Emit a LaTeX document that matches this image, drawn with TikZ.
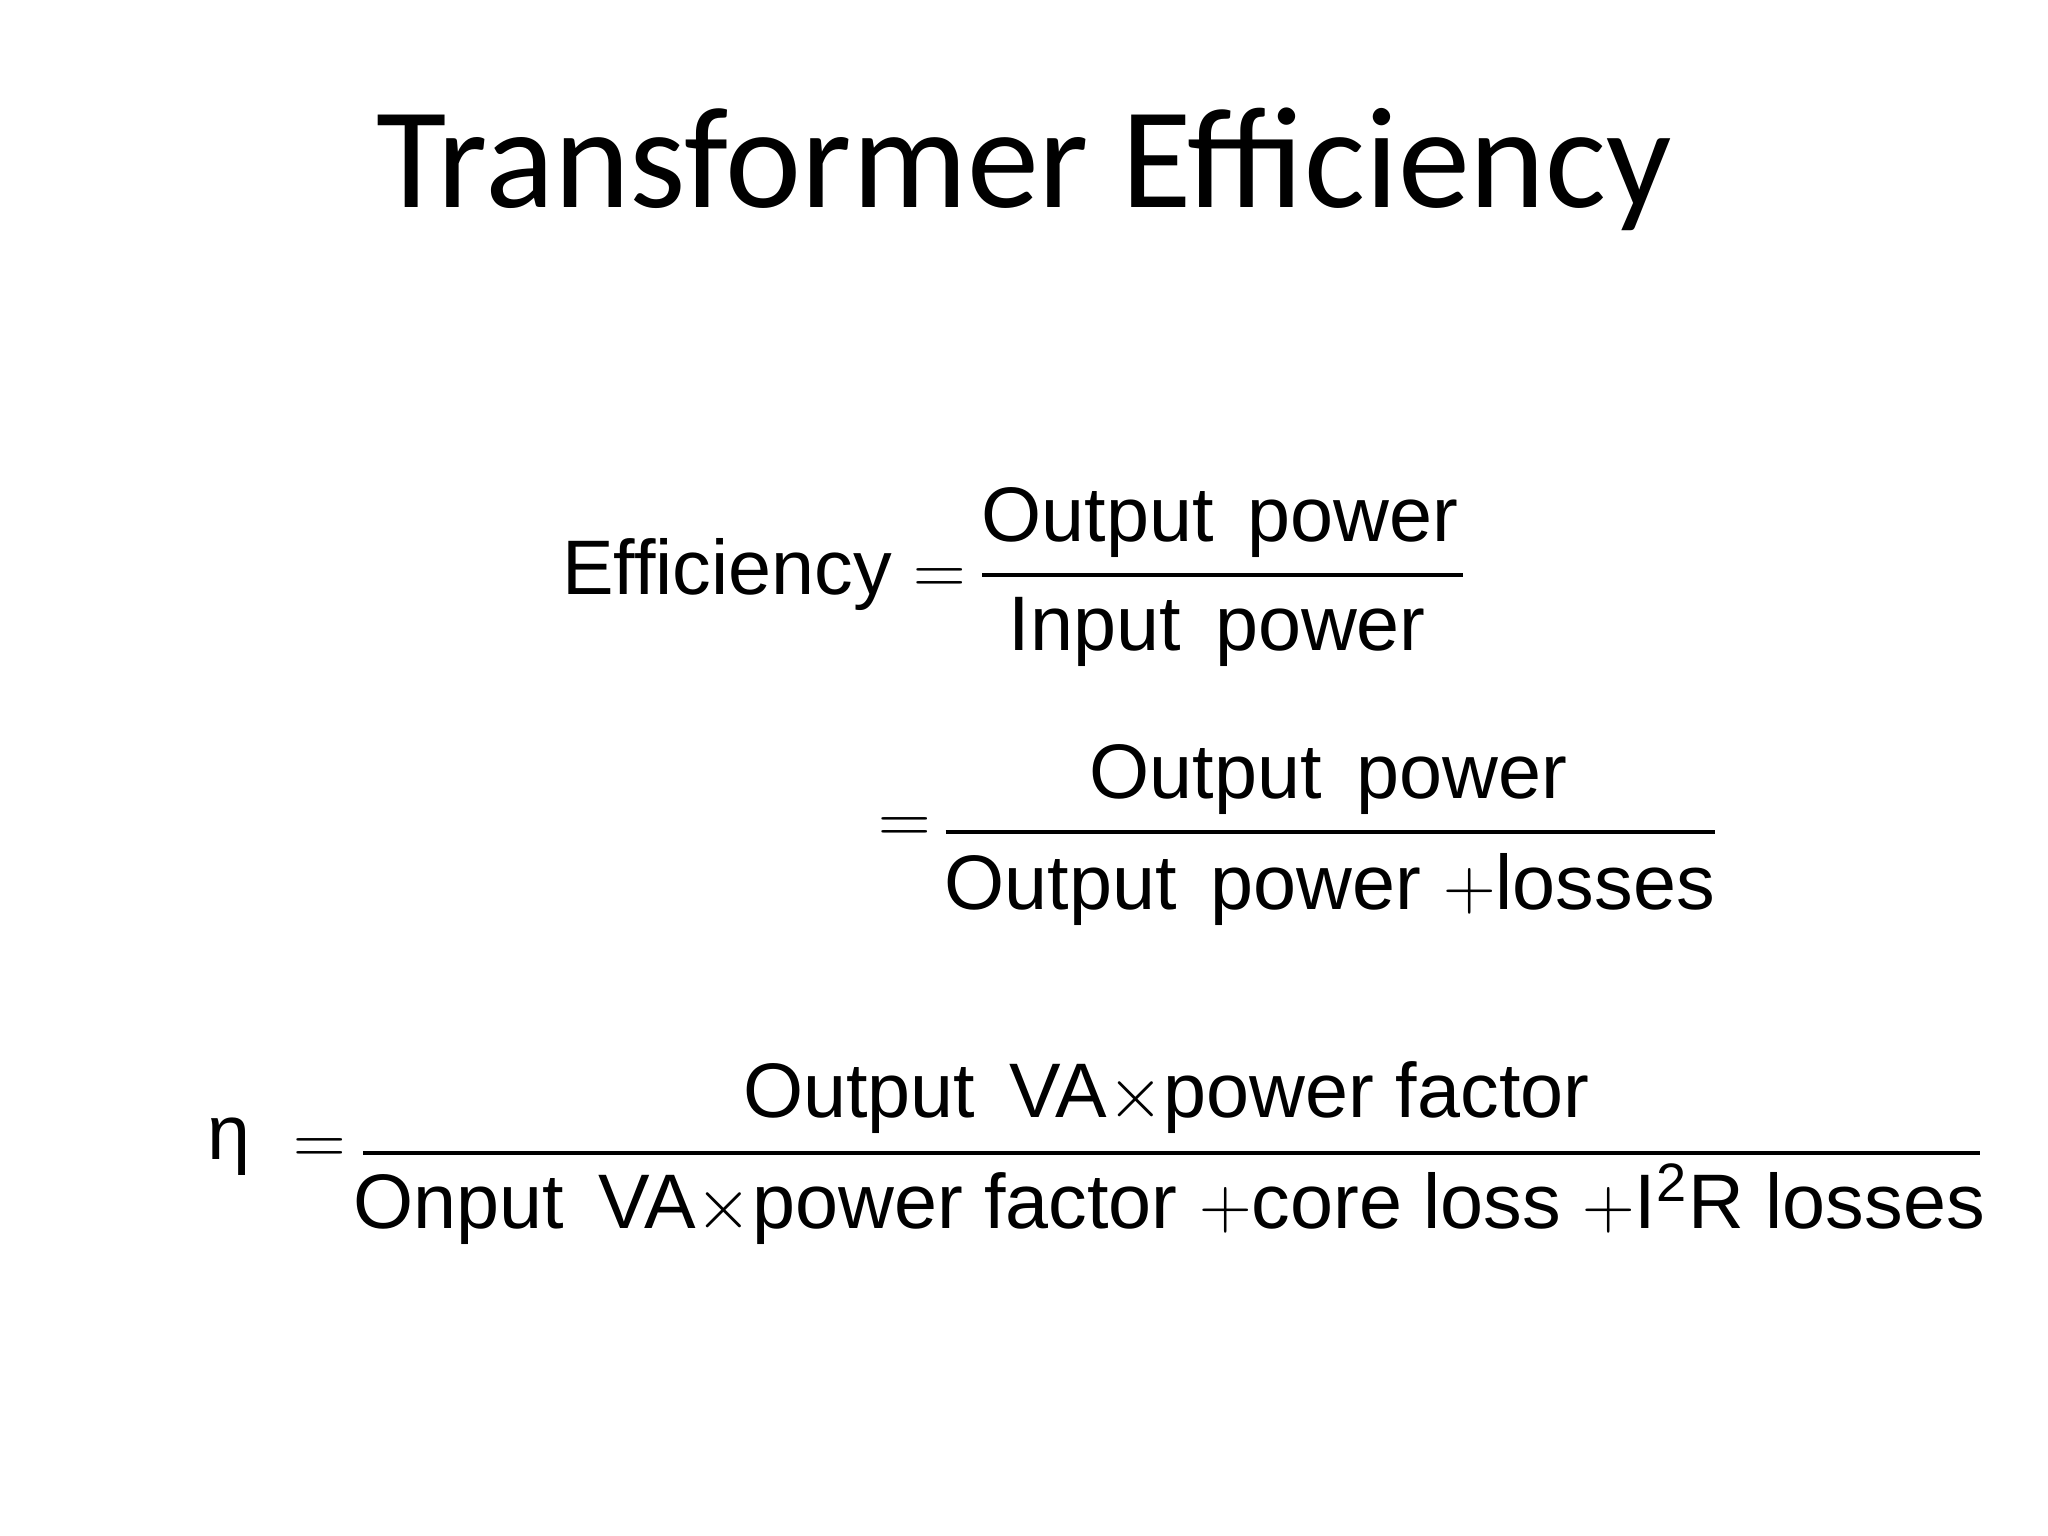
\documentclass[tikz,border=0pt]{standalone}
\usepackage{fontspec}
\setmainfont{Liberation Sans}
\newfontfamily\titlefont{Carlito}
\begin{document}
\begin{tikzpicture}[x=0.01306cm,y=-0.01306cm,
  eq/.style={inner sep=0pt,font=\fontsize{22}{26}\selectfont},
  fracline/.style={line width=1.1pt}]
\useasboundingbox (0,0) rectangle (1568,1176);
\node[inner sep=0pt,font=\titlefont\fontsize{41}{48}\selectfont] (title) at (784,130) {Transformer Efficiency};
% first
\node[eq,anchor=east] (eff) at (740,440) {Efficiency $=$};
\coordinate (l1a) at (752,440); \coordinate (l1b) at (1120,440);
\draw[fracline] (l1a) -- (l1b);
\node[eq] (n1) at (934,400) {Output\, power};
\node[eq] (d1) at (932,484) {Input\, power};
% second
\node[eq] (eq2) at (693,636) {$=$};
\coordinate (l2a) at (724,637); \coordinate (l2b) at (1313,637);
\draw[fracline] (l2a) -- (l2b);
\node[eq] (n2) at (1017,597) {Output\, power};
\node[eq] (d2) at (1018,681) {Output\, power $+$losses};
% third
\node[eq] (eta) at (175,878) {η};
\node[eq] (eq3) at (245,882) {$=$};
\coordinate (l3a) at (278,883); \coordinate (l3b) at (1516,883);
\draw[fracline] (l3a) -- (l3b);
\node[eq] (n3) at (893,840) {Output\, VA$\times$power factor};
\node[eq] (d3) at (895,922) {Onput\, VA$\times$power factor $+$core loss $+$I\textsuperscript{2}R losses};
\end{tikzpicture}
\end{document}
